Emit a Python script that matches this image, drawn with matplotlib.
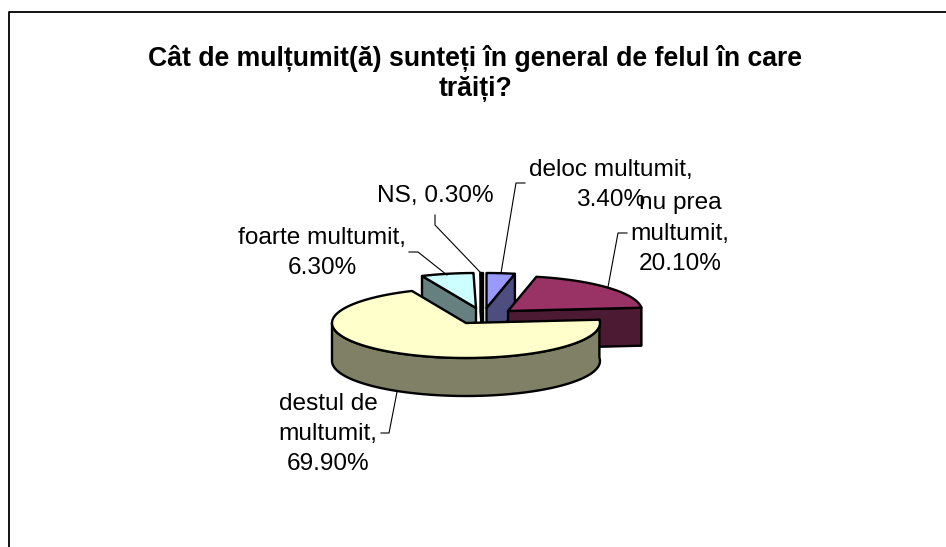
import matplotlib

matplotlib.use("Agg")
import matplotlib.pyplot as plt
import numpy as np
from matplotlib.patches import Polygon

TITLE = "Cât de mulțumit(ă) sunteți în general de felul în care\ntrăiți?"

LABELS = ["deloc multumit", "nu prea multumit", "destul de multumit", "foarte multumit", "NS"]
VALUES = [3.4, 20.1, 69.9, 6.3, 0.3]

TOP_COLORS = ["#9999FF", "#993366", "#FFFFCC", "#CCFFFF", "#660066"]
SIDE_COLORS = ["#4D4D80", "#4D1A33", "#808066", "#668080", "#330033"]

# apex of each exploded slice, in pixels
APEX = [(486.5, 308), (508, 311), (466, 323), (476, 308), (483, 308)]
RX, RY, DEPTH = 134, 35, 38

LABEL_TEXT = [
    (611, 185, "deloc multumit,\n3.40%"),
    (680, 234, "nu prea\nmultumit,\n20.10%"),
    (328, 434, "destul de\nmultumit,\n69.90%"),
    (322, 253, "foarte multumit,\n6.30%"),
    (435, 196, "NS, 0.30%"),
]
LEADERS = [
    [(525, 183), (516, 183), (501, 273)],
    [(627, 233), (618, 233), (608, 287)],
    [(381, 433), (389, 433), (397, 392)],
    [(409, 252), (418, 252), (447, 275)],
    [(435, 215), (435, 225), (480, 272)],
]


def rim_point(apex, angle):
    # angle runs clockwise from 12 o'clock, as in the spreadsheet pie
    return apex[0] + RX * np.sin(angle), apex[1] - RY * np.cos(angle)


def draw_slice(ax, apex, start, end, top_color, side_color):
    # side faces first, then the top
    for angle, visible in ((start, start > np.pi), (end, end < np.pi)):
        if visible:
            x, y = rim_point(apex, angle)
            face = [apex, (x, y), (x, y + DEPTH), (apex[0], apex[1] + DEPTH)]
            ax.add_patch(Polygon(face, fc=side_color, ec="black", lw=1.7, joinstyle="round"))
    lo, hi = max(start, 0), min(end, 3 * np.pi / 2)
    if start < 3 * np.pi / 2 and end > np.pi / 2:
        arc = np.linspace(lo, hi, 90)
        xs, ys = rim_point(apex, arc)
        rim = list(zip(xs, ys)) + list(zip(xs[::-1], ys[::-1] + DEPTH))
        ax.add_patch(Polygon(rim, fc=side_color, ec="black", lw=1.7, joinstyle="round"))
    arc = np.linspace(start, end, 120)
    xs, ys = rim_point(apex, arc)
    top = [apex] + list(zip(xs, ys))
    ax.add_patch(Polygon(top, fc=top_color, ec="black", lw=1.7, joinstyle="round"))


def main() -> None:
    plt.rcParams["font.family"] = ["Liberation Sans", "DejaVu Sans"]
    fig = plt.figure(figsize=(9.46, 5.47), dpi=100)
    ax = fig.add_axes([0, 0, 1, 1])
    ax.set_xlim(0, 946)
    ax.set_ylim(547, 0)
    ax.axis("off")

    ax.plot([9, 9, 946], [547, 12, 12], color="black", lw=1.3)
    ax.text(475, 73, TITLE, ha="center", va="center", fontsize=19.2, fontweight="bold", linespacing=1.2)

    edges = np.cumsum([0] + VALUES) / sum(VALUES) * 2 * np.pi
    for i in [4, 3, 0, 1, 2]:
        draw_slice(ax, APEX[i], edges[i], edges[i + 1], TOP_COLORS[i], SIDE_COLORS[i])

    for path in LEADERS:
        xs, ys = zip(*path)
        ax.plot(xs, ys, color="black", lw=0.8)
    for x, y, text in LABEL_TEXT:
        ax.text(x, y, text, ha="center", va="center", fontsize=17.6, linespacing=1.5)

    fig.savefig("out.png", dpi=100)
    plt.close(fig)


if __name__ == "__main__":
    main()
